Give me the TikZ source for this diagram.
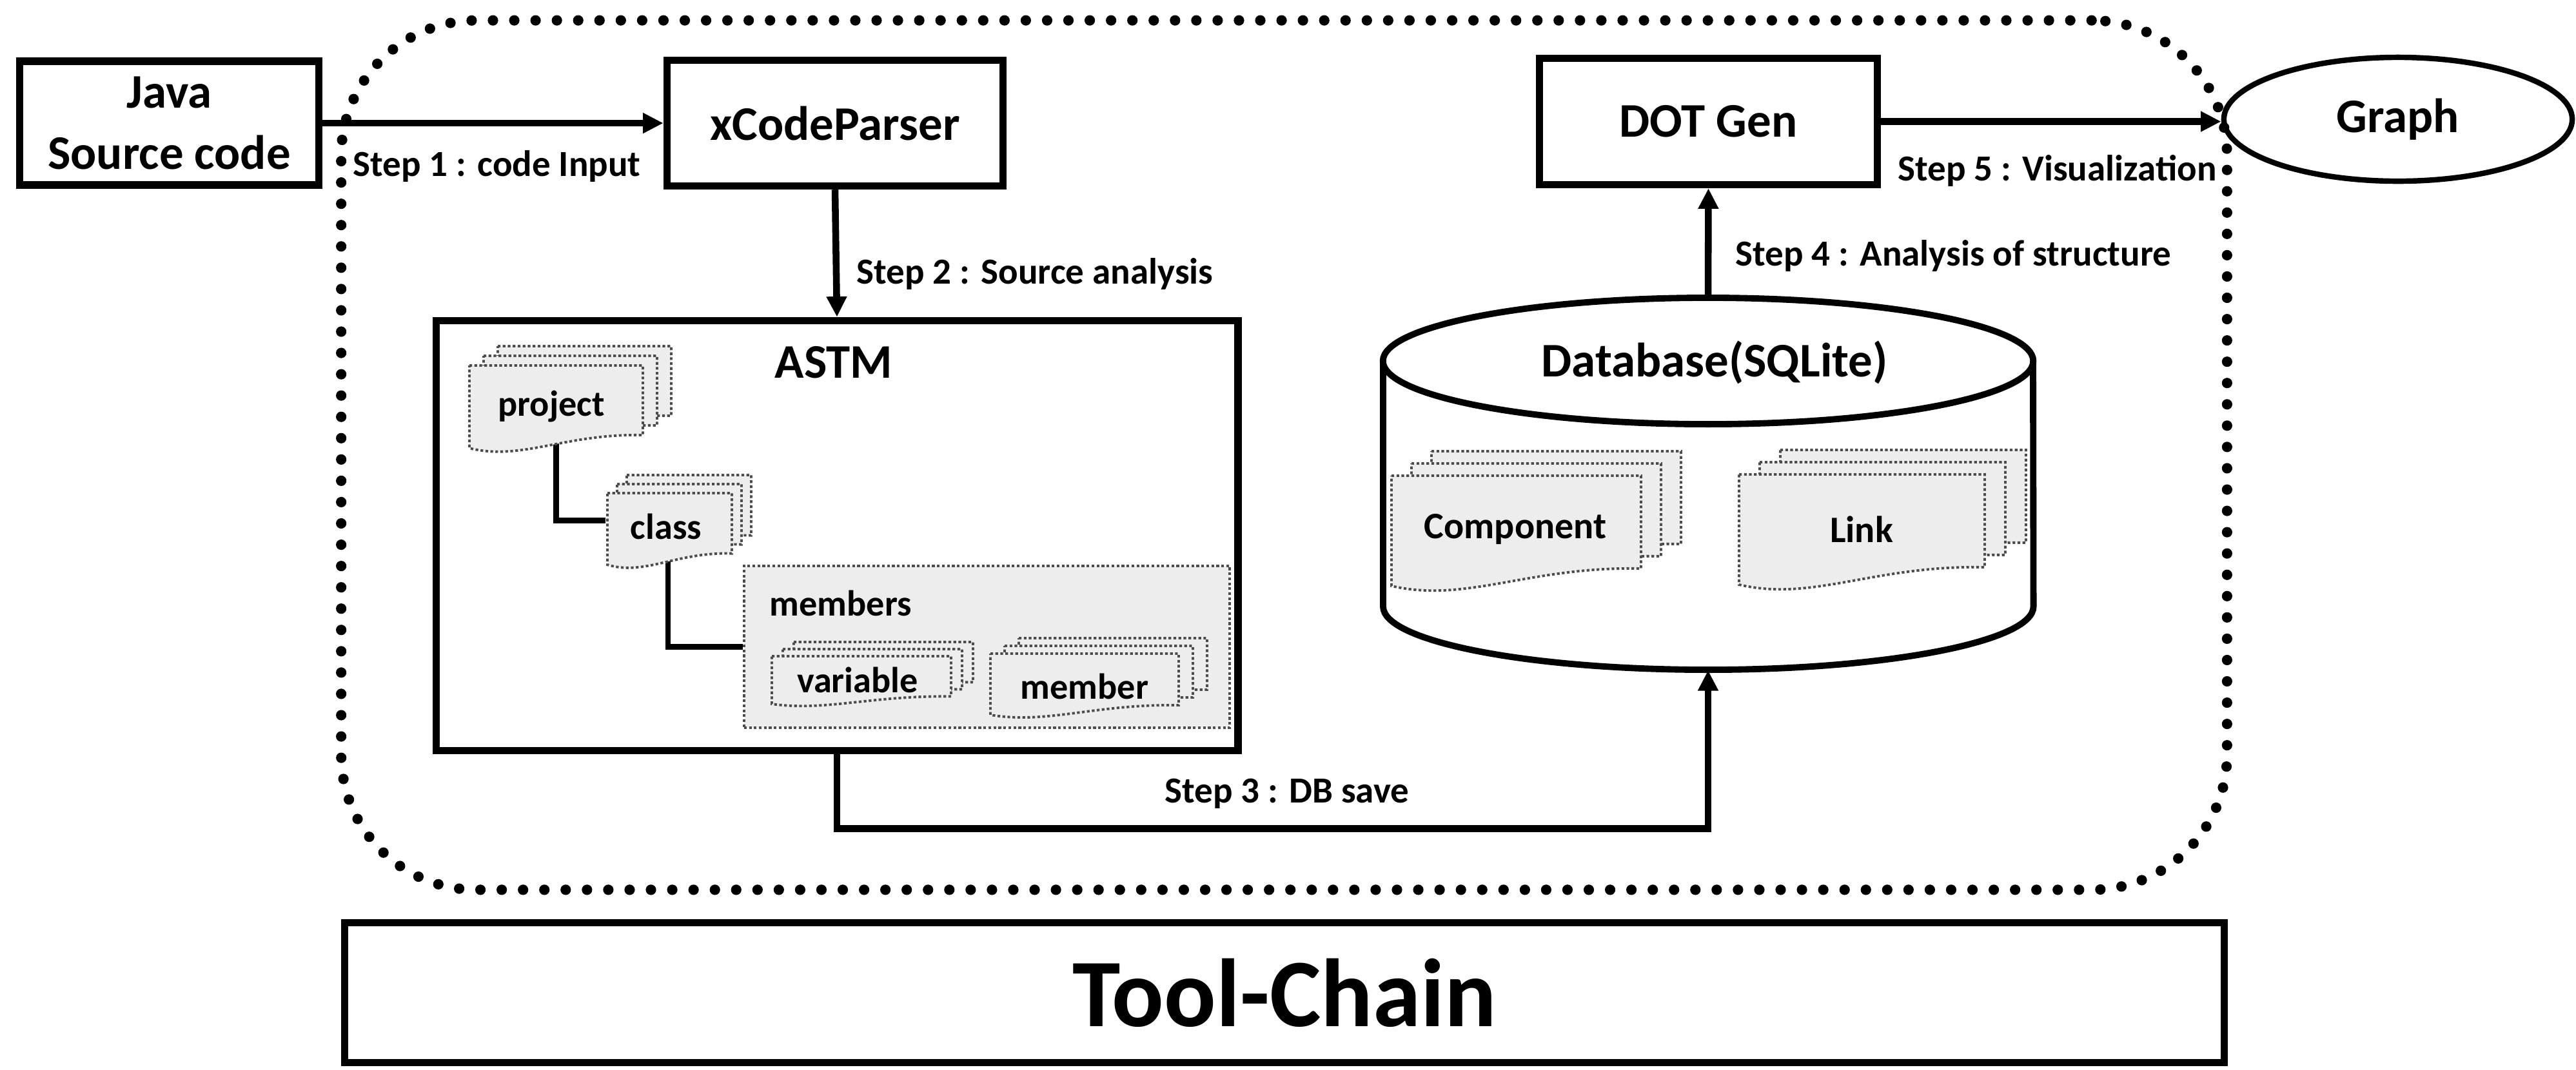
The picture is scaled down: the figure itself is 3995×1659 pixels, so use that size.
\documentclass[tikz,border=0pt]{standalone}
\usepackage{fontspec}
\setmainfont{Carlito}
\usetikzlibrary{arrows.meta,shapes.geometric}

% one sheet of a document symbol: left x, top y, width, height (y grows downward)
\newcommand{\docsheet}[4]{%
  \filldraw[sheet] ({#1},{#2}) -- ({#1+#3},{#2}) -- ({#1+#3},{#2+0.8*(#4)})
    .. controls ({#1+0.55*(#3)},{#2+0.78*(#4)}) and ({#1+0.3*(#3)},{#2+1.1*(#4)}) .. ({#1},{#2+0.95*(#4)}) -- cycle;}
% a stack of three sheets: front sheet x, y, w, h, then the offset of each sheet behind
\newcommand{\docstack}[6]{%
  \docsheet{#1+2*(#5)}{#2+2*(#6)}{#3}{#4}%
  \docsheet{#1+(#5)}{#2+(#6)}{#3}{#4}%
  \docsheet{#1}{#2}{#3}{#4}}

\tikzset{
  procbox/.style={draw, line width=3.2pt, inner sep=0pt, align=center,
    font=\bfseries\fontsize{21.3}{27}\selectfont},
  steplabel/.style={inner sep=0pt, font=\bfseries\fontsize{16.2}{19}\selectfont},
  innerlabel/.style={inner sep=0pt, font=\bfseries\fontsize{16}{19}\selectfont},
  region/.style={inner sep=0pt, draw=none},
  conn/.style={line width=3pt},
  arr/.style={conn, -{Triangle[length=9pt,width=8.5pt]}},
  tree/.style={line width=2.3pt},
  sheet/.style={fill=gray!14, draw=black!70, line width=1.1pt, dash pattern=on 1.2pt off 1pt},
  chainframe/.style={draw, line width=4.6pt, line cap=round, dash pattern=on 0pt off 9.4pt,
    rounded corners=2.1cm, inner sep=0pt},
}

\begin{document}
\begin{tikzpicture}[x=0.01cm, y=-0.01cm]
  \fill[white] (0,0) rectangle (3995,1659);
  \useasboundingbox (0,0) rectangle (3995,1659);

  % dotted frame of the tool chain
  \node[chainframe, minimum width=29.23cm, minimum height=13.48cm] (chain) at (1991.5,706) {};

  % main processing blocks
  \node[procbox, minimum width=4.63cm, minimum height=1.92cm] (java) at (262.5,191) {Java\\Source code};
  \node[procbox, minimum width=5.21cm, minimum height=1.95cm] (xcp) at (1295,191) {xCodeParser};
  \node[procbox, minimum width=5.24cm, minimum height=1.96cm] (dot) at (2649.5,188.5) {DOT Gen};
  \node[draw, ellipse, line width=2.4pt, minimum width=5.4cm, minimum height=1.92cm, inner sep=0pt,
        font=\bfseries\fontsize{21.3}{27}\selectfont] (graph) at (3719,185) {Graph};

  % ASTM model
  \node[draw, line width=3.2pt, minimum width=12.43cm, minimum height=6.67cm, inner sep=0pt] (astm) at (1298,831) {};
  \node[inner sep=0pt, font=\bfseries\fontsize{21.3}{27}\selectfont] (astmlbl) at (1293,562) {ASTM};
  \node[fill=gray!14, draw=black!70, line width=1.1pt, dash pattern=on 1.2pt off 1pt,
        minimum width=7.53cm, minimum height=2.51cm, inner sep=0pt] (members) at (1530.5,1003.5) {};

  % areas covered by the front sheets
  \node[region, minimum width=2.69cm, minimum height=1.35cm] (projdoc) at (862.5,634.5) {};
  \node[region, minimum width=1.93cm, minimum height=1.17cm] (classdoc) at (1036,823.5) {};
  \node[region, minimum width=2.78cm, minimum height=0.78cm] (vardoc) at (1336,1057) {};
  \node[region, minimum width=2.92cm, minimum height=1.00cm] (memdoc) at (1682,1064) {};
  \node[region, minimum width=3.89cm, minimum height=1.82cm] (compdoc) at (2352.5,827) {};
  \node[region, minimum width=3.81cm, minimum height=1.80cm] (linkdoc) at (2887.5,826) {};

  % containment lines of the model tree
  \draw[tree] (projdoc.center) |- ([yshift=0.16cm]classdoc.west);
  \draw[tree] (classdoc.center) |- (members.west);

  % database cylinder
  \node[region, minimum width=10.08cm, minimum height=5.77cm] (db) at (2649,750.5) {};
  \draw[line width=2.8pt, fill=white] (2145,560) -- (2145,941)
    arc[start angle=180, end angle=360, x radius=5.04cm, y radius=0.98cm] -- (3153,560);
  \draw[line width=2.8pt] (2649,560) ellipse [x radius=5.04cm, y radius=0.98cm];
  \node[inner sep=0pt, font=\bfseries\fontsize{21.3}{27}\selectfont] (dblbl) at (2659,562) {Database(SQLite)};

  % document stacks
  \docstack{728}{567}{269}{135}{22}{-15}
  \docstack{942}{765}{193}{117}{15}{-14}
  \docstack{1197}{1018}{278}{78}{17}{-11}
  \docstack{1536}{1014}{292}{100}{22}{-12}
  \docstack{2158}{738}{387}{180}{31}{-19}
  \docstack{2697}{736}{381}{180}{32}{-19}

  \node[innerlabel] (projlbl) at (855,630) {project};
  \node[innerlabel] (classlbl) at (1033,817) {class};
  \node[innerlabel, anchor=west] (memberslbl) at (1193,936) {members};
  \node[innerlabel] (varlbl) at (1330,1055) {variable};
  \node[innerlabel] (memlbl) at (1682,1065) {member};
  \node[innerlabel, font=\bfseries\fontsize{16.5}{19}\selectfont] (complbl) at (2350,821) {Component};
  \node[innerlabel, font=\bfseries\fontsize{16.5}{19}\selectfont] (linklbl) at (2887,821) {Link};

  % processing steps
  \draw[arr] (java) -- (xcp);
  \draw[arr] (xcp.south) -- (astm.north);
  \draw[arr] (astm.south) -- ++(0,115) -| (db.south);
  \draw[arr] (db.north) -- (dot.south);
  \draw[arr] (dot.east) -- (dot.east -| graph.west);

  \node[steplabel, anchor=base west] (s1) at (547,273) {Step 1 : code Input};
  \node[steplabel, anchor=base west] (s2) at (1328,440) {Step 2 : Source analysis};
  \node[steplabel, anchor=base] (s3) at (1996,1245) {Step 3 : DB save};
  \node[steplabel, anchor=base west] (s4) at (2691,412) {Step 4 : Analysis of structure};
  \node[steplabel, anchor=base west] (s5) at (2943,280) {Step 5 : Visualization};

  % title bar
  \node[draw, line width=3.2pt, minimum width=29.13cm, minimum height=2.17cm, inner sep=0pt,
        font=\bfseries\fontsize{42.7}{50}\selectfont] (toolchain) at (1992,1540) {Tool-Chain};
\end{tikzpicture}
\end{document}
